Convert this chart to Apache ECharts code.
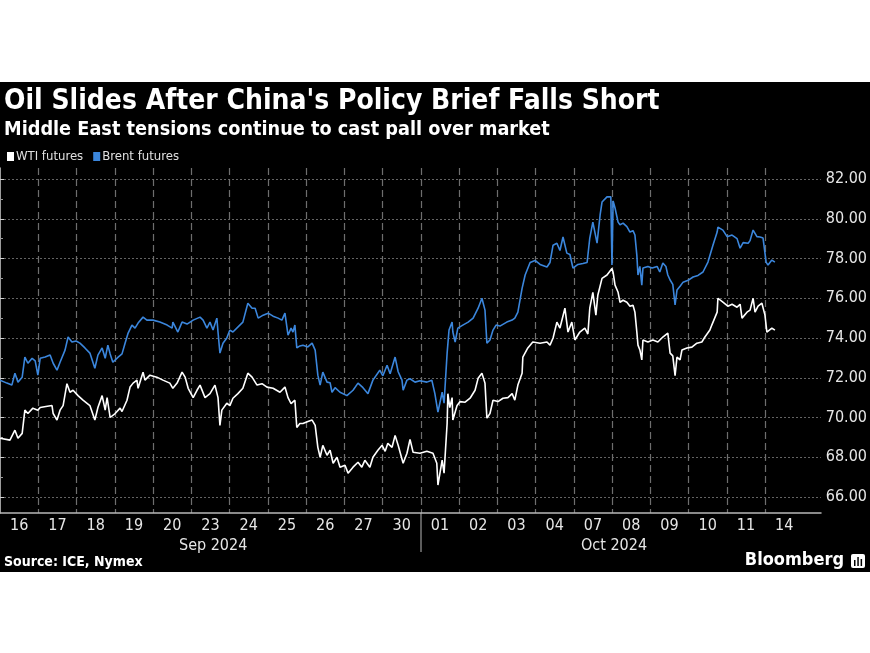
<!DOCTYPE html>
<html>
<head>
<meta charset="utf-8">
<script src="https://cdn.jsdelivr.net/npm/echarts@6/dist/echarts.min.js"></script>
<style>
  html, body { margin: 0; padding: 0; background: #ffffff; }
  #wrap { position: absolute; left: 0; top: 82px; width: 870px; height: 490px; background: #000000; }
  #chart { width: 870px; height: 490px; }
</style>
</head>
<body>
<div id="wrap"><div id="chart"></div></div>
<script>
// ---- Data (x = trading-day index from Sep 16 open; fractional = intraday) ----
const dayLabels = ['16','17','18','19','20','23','24','25','26','27','30','01','02','03','04','07','08','09','10','11','14'];
const monthLabels = ['Sep 2024', 'Oct 2024'];
const yTicks = [66, 68, 70, 72, 74, 76, 78, 80, 82];

const wtiTime = [0,0.26,0.39,0.47,0.58,0.65,0.73,0.86,0.99,1.05,1.20,1.36,1.39,1.49,1.57,1.65,1.75,1.83,1.91,2.04,2.17,2.35,2.48,2.56,2.67,2.75,2.80,2.88,3.01,3.14,3.19,3.32,3.40,3.48,3.58,3.61,3.74,3.79,3.92,4.10,4.26,4.44,4.52,4.63,4.76,4.84,4.92,5.05,5.15,5.23,5.36,5.49,5.62,5.70,5.75,5.80,5.93,6.01,6.09,6.22,6.35,6.48,6.59,6.72,6.85,6.98,7.14,7.32,7.45,7.53,7.61,7.66,7.71,7.76,7.84,7.92,8.05,8.16,8.24,8.31,8.37,8.44,8.55,8.63,8.71,8.81,8.89,9.02,9.10,9.23,9.36,9.46,9.54,9.67,9.75,9.88,9.99,10.07,10.14,10.25,10.33,10.41,10.46,10.54,10.64,10.72,10.80,10.98,11.16,11.32,11.42,11.45,11.56,11.61,11.69,11.71,11.76,11.82,11.84,11.95,12.03,12.16,12.29,12.42,12.50,12.60,12.68,12.73,12.81,12.89,13.02,13.15,13.28,13.39,13.46,13.54,13.65,13.67,13.80,13.93,14.12,14.30,14.38,14.46,14.56,14.64,14.77,14.85,14.95,15.03,15.16,15.29,15.37,15.42,15.50,15.58,15.63,15.74,15.87,16.00,16.03,16.08,16.16,16.21,16.29,16.39,16.47,16.55,16.60,16.65,16.68,16.73,16.78,16.81,16.94,17.07,17.20,17.33,17.46,17.52,17.59,17.65,17.70,17.78,17.83,17.96,18.09,18.22,18.35,18.43,18.48,18.56,18.61,18.75,18.77,18.90,19.03,19.14,19.27,19.35,19.40,19.53,19.61,19.69,19.74,19.82,19.92,20.00,20.05,20.10,20.18,20.26];
const wtiPrice = [68.96,68.86,69.36,68.96,69.2,70.37,70.2,70.47,70.37,70.5,70.55,70.6,70.2,69.87,70.37,70.6,71.7,71.27,71.37,71.1,70.87,70.6,69.87,70.5,71.1,70.37,71.0,70.0,70.2,70.47,70.3,70.87,71.53,71.73,71.88,71.47,72.28,71.88,72.13,72.03,71.88,71.73,71.47,71.73,72.28,72.03,71.47,71.0,71.37,71.63,71.0,71.2,71.63,71.0,69.6,70.37,70.72,70.6,70.97,71.2,71.47,72.23,72.03,71.63,71.7,71.53,71.47,71.27,71.53,71.0,70.7,70.77,70.87,69.5,69.7,69.7,69.8,69.87,69.6,68.5,68.0,68.6,68.1,68.35,67.7,68.0,67.5,67.6,67.2,67.5,67.75,67.5,67.85,67.5,68.0,68.35,68.6,68.3,68.7,68.5,69.1,68.6,68.25,67.7,68.2,68.9,68.25,68.2,68.3,68.2,67.7,66.6,67.85,67.2,69.7,71.2,70.5,71.0,69.87,70.6,70.8,70.77,70.97,71.37,71.97,72.23,71.73,69.97,70.2,70.87,70.8,70.97,71.0,71.2,70.87,71.63,72.23,73.04,73.5,73.8,73.74,73.8,73.64,74.0,74.8,74.5,75.5,74.3,74.8,73.9,74.3,74.5,74.2,75.5,76.3,75.15,76.15,77.0,77.17,77.5,77.3,76.66,76.3,75.8,75.9,75.8,75.6,75.65,75.3,74.3,73.64,73.4,72.9,73.9,73.8,73.9,73.8,74.05,74.25,73.24,73.1,72.1,73.04,72.9,73.4,73.5,73.54,73.74,73.8,74.05,74.0,74.4,74.65,75.3,76.0,75.8,75.6,75.7,75.55,75.7,75.0,75.3,75.4,76.0,75.3,75.6,75.75,75.15,74.3,74.25,74.5,74.4];

const brentTime = [0,0.18,0.31,0.39,0.47,0.58,0.65,0.73,0.84,0.92,0.99,1.05,1.18,1.31,1.39,1.49,1.57,1.70,1.78,1.88,1.99,2.09,2.22,2.35,2.48,2.56,2.67,2.75,2.82,2.88,2.95,3.09,3.19,3.27,3.35,3.45,3.53,3.61,3.74,3.84,4.00,4.18,4.37,4.50,4.52,4.65,4.76,4.89,5.05,5.23,5.31,5.41,5.49,5.57,5.67,5.70,5.75,5.83,5.93,6.01,6.09,6.27,6.35,6.48,6.59,6.67,6.75,6.88,7.01,7.14,7.27,7.37,7.45,7.53,7.61,7.66,7.71,7.76,7.84,7.92,8.05,8.16,8.24,8.31,8.37,8.44,8.55,8.63,8.68,8.76,8.89,9.07,9.23,9.36,9.49,9.62,9.75,9.93,10.01,10.12,10.20,10.33,10.41,10.51,10.54,10.64,10.72,10.85,10.98,11.16,11.29,11.37,11.45,11.56,11.61,11.69,11.74,11.82,11.84,11.90,11.97,12.10,12.24,12.37,12.50,12.60,12.68,12.73,12.81,12.89,12.97,13.07,13.25,13.39,13.46,13.54,13.65,13.73,13.86,13.99,14.12,14.30,14.38,14.46,14.56,14.64,14.72,14.82,14.90,14.98,15.11,15.24,15.35,15.42,15.50,15.61,15.69,15.74,15.87,15.97,16.00,16.03,16.08,16.16,16.21,16.29,16.39,16.47,16.55,16.60,16.65,16.68,16.73,16.78,16.81,16.94,17.05,17.18,17.25,17.33,17.41,17.46,17.52,17.59,17.65,17.70,17.78,17.86,17.99,18.12,18.25,18.38,18.51,18.64,18.75,18.77,18.90,19.01,19.14,19.27,19.35,19.43,19.56,19.61,19.69,19.79,19.87,19.95,20.03,20.08,20.18,20.26];
const brentPrice = [71.88,71.73,71.63,72.23,71.78,72.03,73.04,72.73,72.98,72.85,72.13,72.98,73.04,73.14,72.73,72.38,72.78,73.39,74.05,73.8,73.85,73.74,73.5,73.24,72.48,73.14,73.5,72.98,73.64,73.2,72.78,73.04,73.2,73.74,74.25,74.65,74.5,74.75,75.05,74.9,74.9,74.8,74.65,74.5,74.8,74.3,74.8,74.7,74.9,75.05,74.9,74.5,74.8,74.4,75.0,74.3,73.24,73.74,74.0,74.4,74.3,74.65,74.8,75.75,75.5,75.5,75.0,75.15,75.25,75.1,75.0,74.9,75.25,74.14,74.5,74.3,74.65,73.5,73.6,73.64,73.55,73.74,73.39,72.13,71.63,72.28,71.78,71.75,71.27,71.5,71.27,71.1,71.37,71.73,71.5,71.2,71.88,72.38,72.1,72.63,72.2,73.04,72.3,71.88,71.37,71.88,71.95,71.78,71.85,71.78,71.88,71.2,70.27,71.27,70.72,73.24,74.4,74.8,74.3,73.8,74.5,74.65,74.8,75.0,75.5,76.0,75.4,73.74,73.9,74.4,74.65,74.6,74.8,74.9,75.0,75.3,76.5,77.17,77.8,77.9,77.7,77.57,77.8,78.67,78.77,78.4,79.08,78.27,78.2,77.52,77.7,77.75,77.8,79.03,79.83,78.77,80.19,80.84,81.1,81.1,77.67,80.9,80.54,79.83,79.7,79.78,79.6,79.33,79.4,79.18,78.17,77.17,77.6,76.66,77.52,77.6,77.52,77.6,77.32,77.77,77.6,77.17,76.92,76.7,75.66,76.41,76.6,76.81,76.9,77.07,77.15,77.32,77.82,78.67,79.33,79.58,79.43,79.1,79.18,79.0,78.52,78.8,78.77,78.9,79.43,79.1,79.08,79.03,77.82,77.67,77.92,77.82];

// ---- Styling / layout ----
const FONT = "'Liberation Sans Narrow', 'DejaVu Sans Condensed', 'Roboto Condensed', 'Open Sans', sans-serif";
const WTI_COLOR = '#ffffff';
const BRENT_COLOR = '#3b86dc';
const DAY_SPAN = dayLabels.length + 0.46; // visible x-extent in trading days (axis ends past the last day)

const zip = (xs, ys) => xs.map((x, i) => [x, ys[i]]);

const chart = echarts.init(document.getElementById('chart'), null, { renderer: 'canvas' });

const option = {
  backgroundColor: '#000000',
  animation: false,
  textStyle: { fontFamily: FONT },
  title: [
    { text: "Oil Slides After China's Policy Brief Falls Short", left: -1, top: 1,
      textStyle: { color: '#ffffff', fontSize: 28, fontWeight: 'bold', fontFamily: FONT } },
    { text: 'Middle East tensions continue to cast pall over market', left: -1, top: 33,
      textStyle: { color: '#ffffff', fontSize: 19.7, fontWeight: 'bold', fontFamily: FONT } }
  ],
  legend: {
    left: 2, top: 63, icon: 'rect', itemWidth: 7, itemHeight: 9, itemGap: 10,
    textStyle: { color: '#e0e0e0', fontSize: 13, fontFamily: FONT, padding: [0, 0, 0, -3] },
    data: ['WTI futures', 'Brent futures']
  },
  grid: [
    { left: 0, right: 49, top: 97, bottom: 75 },        // data grid (66..82)
    { left: 0, right: 49, top: 86, bottom: 59 },        // frame
    { left: 0, right: 870 - 38.25 * dayLabels.length, top: 86, bottom: 59 } // day bands
  ],
  xAxis: [
    { gridIndex: 0, type: 'value', min: 0, max: DAY_SPAN, show: false },
    { gridIndex: 1, type: 'value', min: 0, max: 1,
      axisLine: { show: true, lineStyle: { color: '#b8b8b8', width: 1.5 } },
      axisTick: { show: false }, axisLabel: { show: false }, splitLine: { show: false } },
    { gridIndex: 2, type: 'category', data: dayLabels, boundaryGap: true,
      axisLine: { show: false }, axisTick: { show: false },
      axisLabel: { interval: 0, color: '#e6e6e6', fontSize: 16, margin: 5, fontFamily: FONT },
      splitLine: { show: true, interval: 0, showMinLine: false, showMaxLine: false,
        lineStyle: { color: '#6e6e6e', type: [7, 4], width: 1.2 } } }
  ],
  yAxis: [
    { gridIndex: 0, type: 'value', position: 'right', min: yTicks[0], max: yTicks[yTicks.length - 1], interval: 2,
      axisLine: { show: false },
      axisTick: { show: true, length: 4, lineStyle: { color: '#cfcfcf' } },
      minorTick: { show: true, splitNumber: 2, length: 3, lineStyle: { color: '#9a9a9a' } },
      axisLabel: { color: '#e6e6e6', fontSize: 16, margin: 5, fontFamily: FONT,
        formatter: v => v.toFixed(2) },
      splitLine: { show: true, lineStyle: { color: '#636363', type: [2, 2], width: 1 } } },
    { gridIndex: 1, type: 'value', position: 'right', min: 0, max: 1,
      axisLine: { show: true, lineStyle: { color: '#d0d0d0', width: 1.5 } },
      axisTick: { show: false }, axisLabel: { show: false }, splitLine: { show: false } },
    { gridIndex: 2, type: 'value', show: false }
  ],
  series: [
    { name: 'WTI futures', type: 'line', xAxisIndex: 0, yAxisIndex: 0, data: zip(wtiTime, wtiPrice),
      showSymbol: false, itemStyle: { color: WTI_COLOR }, lineStyle: { color: WTI_COLOR, width: 1.6 }, z: 4 },
    { name: 'Brent futures', type: 'line', xAxisIndex: 0, yAxisIndex: 0, data: zip(brentTime, brentPrice),
      showSymbol: false, itemStyle: { color: BRENT_COLOR }, lineStyle: { color: BRENT_COLOR, width: 1.6 }, z: 3 }
  ],
  graphic: [
    { type: 'text', left: 212 - 33, top: 456,
      style: { text: monthLabels[0], fill: '#e6e6e6', font: '16px ' + FONT } },
    { type: 'text', left: 614 - 33, top: 456,
      style: { text: monthLabels[1], fill: '#e6e6e6', font: '16px ' + FONT } },
    { type: 'line', shape: { x1: 421, y1: 431, x2: 421, y2: 470 },
      style: { stroke: '#9a9a9a', lineWidth: 1.2 } },
    { type: 'text', left: 4, top: 473,
      style: { text: 'Source: ICE, Nymex', fill: '#ffffff', font: 'bold 14px ' + FONT } },
    { type: 'text', right: 26, top: 469,
      style: { text: 'Bloomberg', fill: '#ffffff', font: 'bold 18px ' + FONT } },
    { type: 'group', right: 5, top: 472, children: [
      { type: 'rect', shape: { x: 0, y: 0, width: 14, height: 14, r: 2 }, style: { fill: '#ffffff' } },
      { type: 'rect', shape: { x: 3, y: 6, width: 1.5, height: 6 }, style: { fill: '#000000' } },
      { type: 'rect', shape: { x: 6.3, y: 3, width: 1.5, height: 9 }, style: { fill: '#000000' } },
      { type: 'rect', shape: { x: 9.6, y: 5, width: 1.5, height: 7 }, style: { fill: '#000000' } }
    ] }
  ]
};
chart.setOption(option);
</script>
</body>
</html>
